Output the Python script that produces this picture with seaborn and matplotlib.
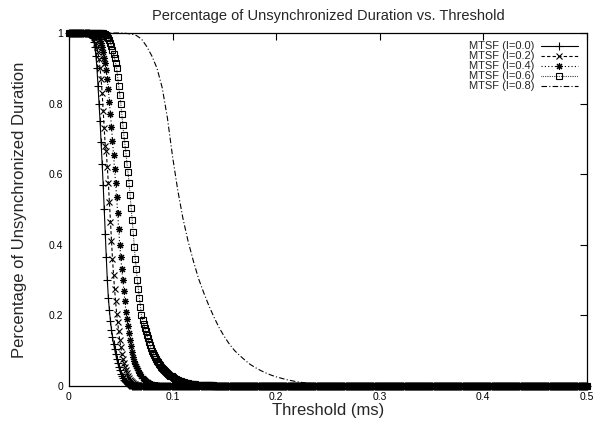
import numpy as np
import matplotlib
matplotlib.use("Agg")
import matplotlib.pyplot as plt
import seaborn as sns

N = 501
threshold_ms = np.round(np.arange(N) * 0.001, 3)   # sampling grid 0 .. 0.5 ms

def pad(vals):
    return np.array(vals + [0.0] * (N - len(vals)))

y_l00 = [1.0] * 20 + [
    0.998, 0.995, 0.99, 0.985, 0.975, 0.96, 0.935, 0.9, 0.85, 0.8,
    0.75, 0.69, 0.63, 0.57, 0.5, 0.43, 0.365, 0.3, 0.25, 0.215,
    0.185, 0.16, 0.14, 0.12, 0.105, 0.09, 0.077, 0.065, 0.054, 0.044,
    0.035, 0.028, 0.022, 0.017, 0.013, 0.01, 0.008, 0.006, 0.004, 0.003,
    0.002] + [0.001] * 10

y_l02 = [1.0] * 22 + [
    0.998, 0.995, 0.99, 0.983, 0.973, 0.96, 0.945, 0.925, 0.9, 0.87,
    0.83, 0.78, 0.73, 0.68, 0.665, 0.62, 0.575, 0.52, 0.465, 0.41,
    0.36, 0.315, 0.275, 0.24, 0.205, 0.18, 0.155, 0.13, 0.11, 0.092,
    0.077, 0.064, 0.053, 0.044, 0.036, 0.029, 0.023, 0.018, 0.014, 0.011,
    0.009, 0.007, 0.005, 0.004, 0.003, 0.002] + [0.001] * 12

y_l04 = [1.0] * 27 + [
    0.998, 0.995, 0.99, 0.983, 0.973, 0.96, 0.945, 0.93, 0.915, 0.895,
    0.87, 0.84, 0.805, 0.77, 0.735, 0.695, 0.655, 0.615, 0.575, 0.535,
    0.49, 0.445, 0.4, 0.365, 0.33, 0.3, 0.27, 0.24, 0.21, 0.19,
    0.17, 0.15, 0.13, 0.112, 0.096, 0.083, 0.072, 0.063, 0.056, 0.05,
    0.044, 0.038, 0.033, 0.028, 0.024, 0.02, 0.017, 0.014, 0.012, 0.01,
    0.008, 0.007, 0.006, 0.005, 0.004, 0.003, 0.003, 0.002, 0.002] + [0.001] * 20

y_l06 = [1.0] * 34 + [
    0.998, 0.996, 0.993, 0.99, 0.985, 0.98, 0.972, 0.962, 0.952, 0.94,
    0.928, 0.914, 0.9, 0.875, 0.85, 0.825, 0.8, 0.77, 0.74, 0.71,
    0.685, 0.66, 0.63, 0.605, 0.575, 0.54, 0.505, 0.47, 0.435, 0.395,
    0.36, 0.33, 0.3, 0.275, 0.25, 0.225, 0.2, 0.188, 0.176, 0.165,
    0.155, 0.145, 0.135, 0.126, 0.117, 0.108, 0.1, 0.094, 0.088, 0.082,
    0.077, 0.072, 0.067, 0.063, 0.059, 0.055, 0.051, 0.048, 0.045, 0.042,
    0.039, 0.036, 0.034, 0.031, 0.029, 0.027, 0.025, 0.023, 0.021, 0.019,
    0.018, 0.016, 0.015, 0.014, 0.013, 0.012, 0.011, 0.01, 0.009, 0.009,
    0.008, 0.008, 0.007, 0.007, 0.006, 0.006, 0.005, 0.005, 0.005, 0.004,
    0.004, 0.004, 0.004, 0.003, 0.003, 0.003, 0.003, 0.003, 0.002, 0.002,
    0.002, 0.002, 0.002, 0.002, 0.002, 0.002] + [0.001] * 60

x_l08 = [0.0, 0.05, 0.055, 0.06, 0.065, 0.07, 0.075, 0.08, 0.085, 0.09, 0.095,
         0.1, 0.105, 0.11, 0.115, 0.12, 0.125, 0.13, 0.135, 0.14, 0.145,
         0.15, 0.155, 0.16, 0.165, 0.17, 0.175, 0.18, 0.185, 0.19, 0.195,
         0.2, 0.205, 0.21, 0.215, 0.22, 0.225, 0.23, 0.235, 0.24, 0.245,
         0.25, 0.26, 0.27, 0.28, 0.3, 0.5]
y_l08 = [1.0, 1.0, 0.999, 0.997, 0.993, 0.983, 0.962, 0.935, 0.9, 0.845, 0.76,
         0.65, 0.555, 0.475, 0.41, 0.355, 0.305, 0.265, 0.228, 0.195, 0.165,
         0.14, 0.118, 0.1, 0.086, 0.073, 0.061, 0.052, 0.044, 0.037, 0.031,
         0.026, 0.022, 0.018, 0.015, 0.012, 0.01, 0.008, 0.007, 0.006, 0.005,
         0.004, 0.003, 0.002, 0.001, 0.0, 0.0]

labels = ["MTSF (I=0.0)", "MTSF (I=0.2)", "MTSF (I=0.4)", "MTSF (I=0.6)", "MTSF (I=0.8)"]
xlabel = "Threshold (ms)"
ylabel = "Percentage of Unsynchronized Duration"
title = "Percentage of Unsynchronized Duration vs. Threshold"
xticks = [0, 0.1, 0.2, 0.3, 0.4, 0.5]
xticklabels = ["0", "0.1", "0.2", "0.3", "0.4", "0.5"]
yticks = [0, 0.2, 0.4, 0.6, 0.8, 1.0]
yticklabels = ["0", "0.2", "0.4", "0.6", "0.8", "1"]

sns.set_style("white")
plt.rcParams["font.family"] = ["Liberation Sans", "DejaVu Sans"]

fig = plt.figure(figsize=(6.0, 4.23), dpi=100)
ax = fig.add_axes([0.115, 0.0875, 0.863, 0.8345])

series = [
    (threshold_ms, pad(y_l00), dict(marker="+", linestyle="-", markersize=5.5, markeredgewidth=0.8)),
    (threshold_ms, pad(y_l02), dict(marker="x", linestyle=(0, (3, 2)), markersize=4, markeredgewidth=0.8)),
    (threshold_ms, pad(y_l04), dict(marker=(8, 2, 0), linestyle=(0, (1, 2)), markersize=5, markeredgewidth=0.8)),
    (threshold_ms, pad(y_l06), dict(marker="s", linestyle=(0, (0.6, 1.0)), markersize=4.5, markeredgewidth=0.8,
                                     fillstyle="none")),
    (np.array(x_l08), np.array(y_l08), dict(marker=None, linestyle=(0, (5, 2, 1, 2)))),
]

for (xs, ys, kw), lab in zip(series, labels):
    sns.lineplot(x=xs, y=ys, ax=ax, label=lab, color="black", linewidth=0.8,
                 estimator=None, sort=False, clip_on=False, markeredgecolor="black", **kw)

ax.set_xlim(0, 0.5)
ax.set_ylim(0, 1)
ax.set_xticks(xticks)
ax.set_xticklabels(xticklabels)
ax.set_yticks(yticks)
ax.set_yticklabels(yticklabels)
ax.tick_params(direction="in", length=5, width=0.8, labelsize=7.5, top=True, right=True,
               colors="black", pad=4)
for s in ax.spines.values():
    s.set_visible(True)
    s.set_color("black")
    s.set_linewidth(0.9)

ax.set_xlabel(xlabel, fontsize=12, labelpad=1)
ax.set_ylabel(ylabel, fontsize=12, labelpad=16)
ax.set_title(title, fontsize=10.5, pad=9)

leg = ax.legend(loc="upper right", bbox_to_anchor=(0.995, 0.995), frameon=False, markerfirst=False,
                fontsize=8, handlelength=3.3, labelspacing=0.0, handletextpad=0.6,
                borderaxespad=0.2)

fig.savefig("out.png", dpi=100)
